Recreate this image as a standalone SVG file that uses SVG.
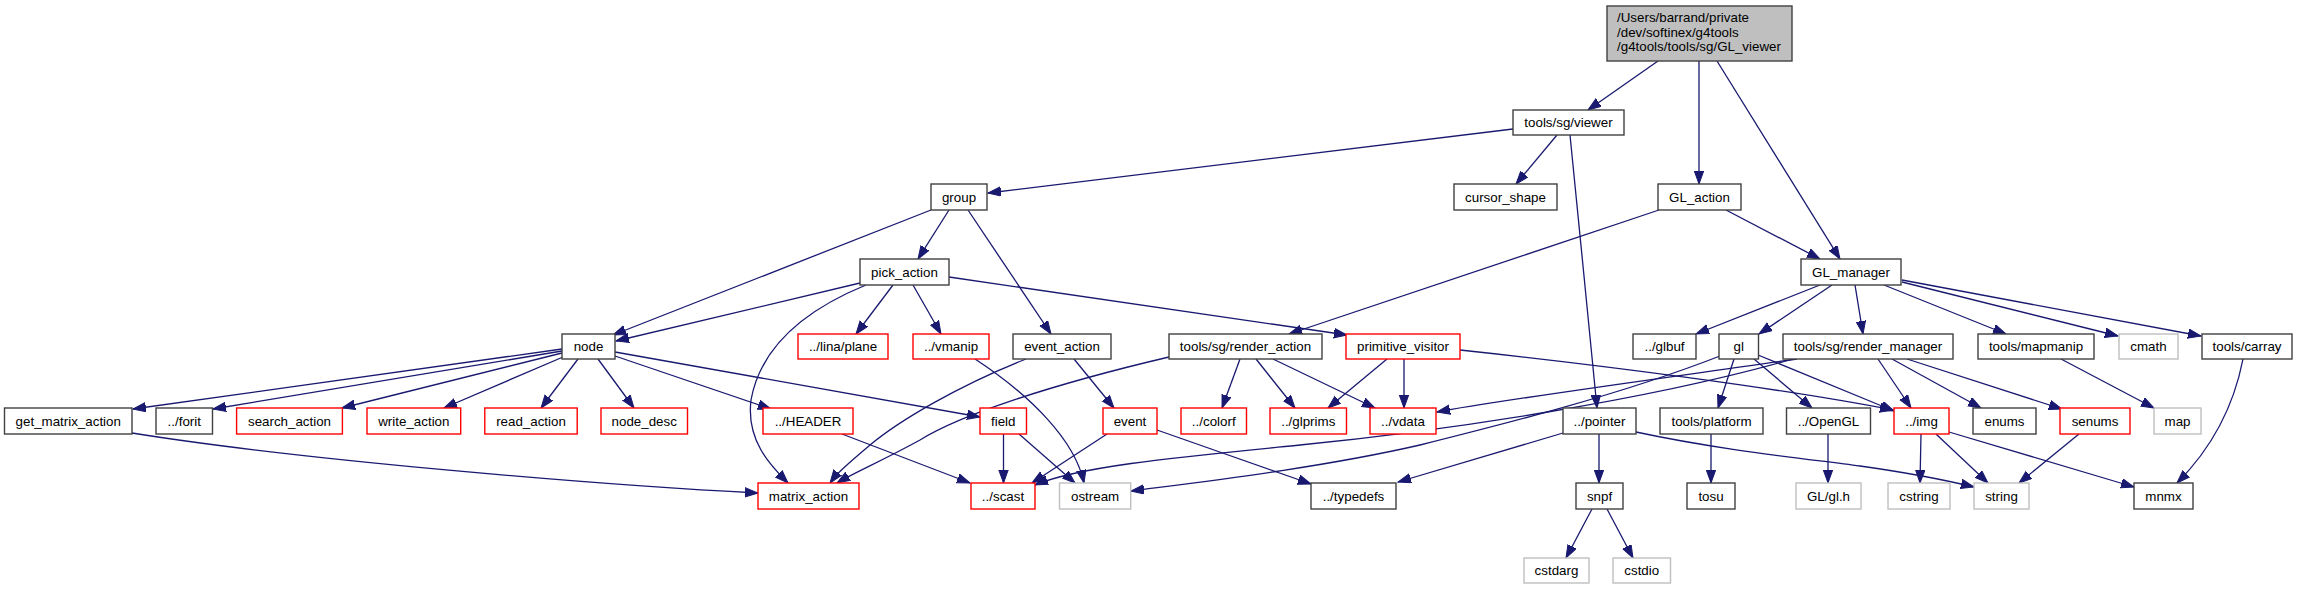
<svg xmlns="http://www.w3.org/2000/svg" width="2298" height="589" viewBox="0 0 2298 589">
<style>
.b{fill:#ffffff;stroke:#404040;stroke-width:1.4}
.r{fill:#ffffff;stroke:#ff0000;stroke-width:1.4}
.g{fill:#ffffff;stroke:#bfbfbf;stroke-width:1.4}
.root{fill:#bfbfbf;stroke:#404040;stroke-width:1.4}
text{font-family:"Liberation Sans",Arial,sans-serif;font-size:13.35px;fill:#000000;text-anchor:middle}
text.l{text-anchor:start}
#edges path{fill:none;stroke:#191970;stroke-width:1.3;marker-end:url(#a)}
</style>
<defs>
<marker id="a" markerUnits="userSpaceOnUse" markerWidth="14" markerHeight="11" refX="13" refY="5" orient="auto" viewBox="0 0 14 11">
<path d="M0,0.3 L13,5 L0,9.7 z" fill="#191970" stroke="#191970" stroke-width="1"/>
</marker>
</defs>
<rect width="2298" height="589" fill="#ffffff"/>
<g id="edges">
<path d="M1658,61 L1588,110"/>
<path d="M1699,61 L1699,184"/>
<path d="M1717,61 L1840,259"/>
<path d="M1513,129 L988,193"/>
<path d="M1557,135 L1516,184"/>
<path d="M1570,135 C1578,220 1590,330 1597,408"/>
<path d="M1726,210 L1820,259"/>
<path d="M1659,210 L1289,334"/>
<path d="M949,210 L918,259"/>
<path d="M931,210 L613,335"/>
<path d="M968,210 L1051,334"/>
<path d="M860,283 L616,341"/>
<path d="M866,285 C800,312 760,350 751,400 C746,440 770,465 788,483"/>
<path d="M893,285 L856,334"/>
<path d="M913,285 L941,334"/>
<path d="M949,277 L1347,335"/>
<path d="M562,349 L133,409"/>
<path d="M562,351 L213,409"/>
<path d="M562,353 L342,408"/>
<path d="M563,357 L444,408"/>
<path d="M578,359 L541,408"/>
<path d="M598,359 L634,408"/>
<path d="M615,356 L771,409"/>
<path d="M615,352 L980,417"/>
<path d="M132,433 C300,460 600,485 758,493"/>
<path d="M842,434 L970,483"/>
<path d="M1003.5,434 L1003.5,483"/>
<path d="M1019,434 L1075,483"/>
<path d="M975,359 C1030,395 1075,440 1084,483"/>
<path d="M1026,359 C960,385 900,420 870,445 C850,462 838,472 830,483"/>
<path d="M1074,359 L1114,408"/>
<path d="M1169,357 C1050,385 960,415 920,440 C880,462 855,472 837,483"/>
<path d="M1240,359 L1222,408"/>
<path d="M1256,359 L1295,408"/>
<path d="M1273,359 L1375,408"/>
<path d="M1387,359 L1328,408"/>
<path d="M1404,359 L1404,408"/>
<path d="M1460,350 C1600,365 1780,388 1893,410"/>
<path d="M1107,434 L1032,483"/>
<path d="M1157,430 L1311,484"/>
<path d="M1820,285 L1696,334"/>
<path d="M1832,285 L1759,334"/>
<path d="M1855,285 L1863,334"/>
<path d="M1884,285 L2006,334"/>
<path d="M1902,282 L2118,336"/>
<path d="M1902,280 L2201,336"/>
<path d="M1720,356 C1620,395 1500,425 1420,445 C1320,468 1200,482 1131,491"/>
<path d="M1734,359 L1718,408"/>
<path d="M1754,359 L1812,408"/>
<path d="M1758,355 L1894,411"/>
<path d="M1797,359 C1650,380 1500,400 1437,412"/>
<path d="M1793,359 C1650,400 1450,430 1300,445 C1180,457 1080,466 1035,485"/>
<path d="M1878,359 L1911,408"/>
<path d="M1892,359 L1981,408"/>
<path d="M1907,359 L2062,409"/>
<path d="M2061,359 L2154,408"/>
<path d="M2243,359 C2235,400 2215,445 2177,483"/>
<path d="M1599,434 L1599,483"/>
<path d="M1636,432 C1720,450 1800,458 1860,466 C1910,473 1945,480 1974,487"/>
<path d="M1563,433 L1398,482"/>
<path d="M1711,434 L1711,483"/>
<path d="M1828,434 L1828,483"/>
<path d="M1921,434 L1920,483"/>
<path d="M1936,434 L1988,483"/>
<path d="M1949,432 L2134,487"/>
<path d="M2079,434 L2019,483"/>
<path d="M1592,509 L1566,558"/>
<path d="M1607,509 L1633,558"/>
</g>
<g id="GL_viewer"><rect class="root" x="1607" y="6" width="185" height="55"/><text class="l" x="1617" y="22">/Users/barrand/private</text><text class="l" x="1617" y="36.7">/dev/softinex/g4tools</text><text class="l" x="1617" y="51.3">/g4tools/tools/sg/GL_viewer</text></g>
<g id="viewer"><rect class="b" x="1513" y="110" width="111" height="25"/><text x="1568.5" y="127">tools/sg/viewer</text></g>
<g id="group"><rect class="b" x="931" y="184" width="56" height="26"/><text x="959" y="201.5">group</text></g>
<g id="cursor_shape"><rect class="b" x="1454" y="184" width="103" height="26"/><text x="1505.5" y="201.5">cursor_shape</text></g>
<g id="GL_action"><rect class="b" x="1658" y="184" width="83" height="26"/><text x="1699.5" y="201.5">GL_action</text></g>
<g id="pick_action"><rect class="b" x="860" y="259" width="89" height="26"/><text x="904.5" y="276.5">pick_action</text></g>
<g id="GL_manager"><rect class="b" x="1801" y="259" width="100" height="26"/><text x="1851" y="276.5">GL_manager</text></g>
<g id="node"><rect class="b" x="562" y="334" width="53" height="25"/><text x="588.5" y="351">node</text></g>
<g id="lina_plane"><rect class="r" x="798" y="334" width="90" height="25"/><text x="843" y="351">../lina/plane</text></g>
<g id="vmanip"><rect class="r" x="913" y="334" width="76" height="25"/><text x="951" y="351">../vmanip</text></g>
<g id="event_action"><rect class="b" x="1013" y="334" width="98" height="25"/><text x="1062" y="351">event_action</text></g>
<g id="render_action"><rect class="b" x="1169" y="334" width="153" height="25"/><text x="1245.5" y="351">tools/sg/render_action</text></g>
<g id="primitive_visitor"><rect class="r" x="1346" y="334" width="114" height="25"/><text x="1403" y="351">primitive_visitor</text></g>
<g id="glbuf"><rect class="b" x="1633" y="334" width="63" height="25"/><text x="1664.5" y="351">../glbuf</text></g>
<g id="gl"><rect class="b" x="1719" y="334" width="39.5" height="25"/><text x="1738.75" y="351">gl</text></g>
<g id="render_manager"><rect class="b" x="1783" y="334" width="170" height="25"/><text x="1868" y="351">tools/sg/render_manager</text></g>
<g id="mapmanip"><rect class="b" x="1978" y="334" width="116" height="25"/><text x="2036" y="351">tools/mapmanip</text></g>
<g id="cmath"><rect class="g" x="2119" y="334" width="59" height="25"/><text x="2148.5" y="351">cmath</text></g>
<g id="carray"><rect class="b" x="2202" y="334" width="90" height="25"/><text x="2247" y="351">tools/carray</text></g>
<g id="get_matrix_action"><rect class="b" x="4.5" y="408" width="127.5" height="26"/><text x="68.25" y="425.5">get_matrix_action</text></g>
<g id="forit"><rect class="b" x="156" y="408" width="56.5" height="26"/><text x="184.25" y="425.5">../forit</text></g>
<g id="search_action"><rect class="r" x="236.6" y="408" width="105.8" height="26"/><text x="289.5" y="425.5">search_action</text></g>
<g id="write_action"><rect class="r" x="367" y="408" width="93.7" height="26"/><text x="413.85" y="425.5">write_action</text></g>
<g id="read_action"><rect class="r" x="484.8" y="408" width="92.4" height="26"/><text x="531" y="425.5">read_action</text></g>
<g id="node_desc"><rect class="r" x="601" y="408" width="86.5" height="26"/><text x="644.25" y="425.5">node_desc</text></g>
<g id="HEADER"><rect class="r" x="763" y="408" width="90" height="26"/><text x="808" y="425.5">../HEADER</text></g>
<g id="field"><rect class="r" x="980" y="408" width="46.5" height="26"/><text x="1003.25" y="425.5">field</text></g>
<g id="event"><rect class="r" x="1103" y="408" width="54" height="26"/><text x="1130" y="425.5">event</text></g>
<g id="colorf"><rect class="r" x="1181" y="408" width="65.5" height="26"/><text x="1213.75" y="425.5">../colorf</text></g>
<g id="glprims"><rect class="r" x="1270" y="408" width="76.5" height="26"/><text x="1308.25" y="425.5">../glprims</text></g>
<g id="vdata"><rect class="r" x="1370" y="408" width="66" height="26"/><text x="1403" y="425.5">../vdata</text></g>
<g id="pointer"><rect class="b" x="1563" y="408" width="73" height="26"/><text x="1599.5" y="425.5">../pointer</text></g>
<g id="platform"><rect class="b" x="1660" y="408" width="103" height="26"/><text x="1711.5" y="425.5">tools/platform</text></g>
<g id="OpenGL"><rect class="b" x="1786.5" y="408" width="84" height="26"/><text x="1828.5" y="425.5">../OpenGL</text></g>
<g id="img"><rect class="r" x="1894" y="408" width="55" height="26"/><text x="1921.5" y="425.5">../img</text></g>
<g id="enums"><rect class="b" x="1973" y="408" width="63" height="26"/><text x="2004.5" y="425.5">enums</text></g>
<g id="senums"><rect class="r" x="2060" y="408" width="70" height="26"/><text x="2095" y="425.5">senums</text></g>
<g id="map"><rect class="g" x="2154" y="408" width="47" height="26"/><text x="2177.5" y="425.5">map</text></g>
<g id="matrix_action"><rect class="r" x="758" y="483" width="101" height="26"/><text x="808.5" y="500.5">matrix_action</text></g>
<g id="scast"><rect class="r" x="971" y="483" width="64" height="26"/><text x="1003" y="500.5">../scast</text></g>
<g id="ostream"><rect class="g" x="1059.5" y="483" width="71.2" height="26"/><text x="1095.1" y="500.5">ostream</text></g>
<g id="typedefs"><rect class="b" x="1311" y="483" width="85" height="26"/><text x="1353.5" y="500.5">../typedefs</text></g>
<g id="snpf"><rect class="b" x="1576" y="483" width="47" height="26"/><text x="1599.5" y="500.5">snpf</text></g>
<g id="tosu"><rect class="b" x="1687" y="483" width="48" height="26"/><text x="1711" y="500.5">tosu</text></g>
<g id="gl_h"><rect class="g" x="1796" y="483" width="65" height="26"/><text x="1828.5" y="500.5">GL/gl.h</text></g>
<g id="cstring"><rect class="g" x="1888" y="483" width="62" height="26"/><text x="1919" y="500.5">cstring</text></g>
<g id="string"><rect class="g" x="1974" y="483" width="55" height="26"/><text x="2001.5" y="500.5">string</text></g>
<g id="mnmx"><rect class="b" x="2134" y="483" width="59" height="26"/><text x="2163.5" y="500.5">mnmx</text></g>
<g id="cstdarg"><rect class="g" x="1524" y="558" width="65" height="25"/><text x="1556.5" y="575">cstdarg</text></g>
<g id="cstdio"><rect class="g" x="1613" y="558" width="57.5" height="25"/><text x="1641.75" y="575">cstdio</text></g>
</svg>
